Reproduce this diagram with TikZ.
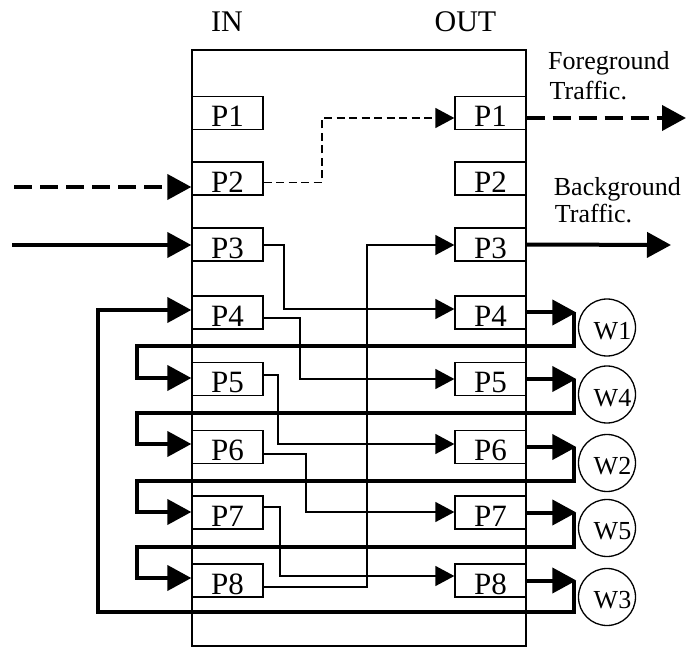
\documentclass[tikz,border=0pt]{standalone}
\usepackage{fontspec}
\setmainfont{Liberation Serif}
\usetikzlibrary{arrows.meta,calc}
\begin{document}
\begin{tikzpicture}[x=1pt,y=-1pt,
  thinline/.style={line width=1.3pt},
  thickline/.style={line width=4pt},
  bigtip/.style={-{Triangle[length=24pt,width=25pt]}},
  smalltip/.style={-{Triangle[length=19pt,width=20pt]}},
  conn/.style={thinline,smalltip},
  dconn/.style={thinline,smalltip,dash pattern=on 8pt off 4.5pt},
  feed/.style={thickline,bigtip},
  dfeed/.style={thickline,bigtip,dash pattern=on 18pt off 8pt},
  port/.style={draw,line width=1.3pt,minimum width=71pt,minimum height=33pt,inner sep=0pt,
    font=\fontsize{31}{31}\selectfont,text height=27.5pt,text depth=0pt},
  wnode/.style={draw,circle,line width=1.3pt,minimum size=57pt,inner sep=0pt,
    font=\fontsize{26}{26}\selectfont,text height=23.5pt,text depth=0pt},
  head/.style={inner sep=0pt,anchor=base,font=\fontsize{30}{30}\selectfont},
  note/.style={inner sep=0pt,anchor=base west,font=\fontsize{26}{26}\selectfont}
]
\useasboundingbox (0,0) rectangle (686,647);
% switch body
\node[draw,line width=1.3pt,minimum width=334pt,minimum height=596pt,inner sep=0pt] (sw) at (359,348) {};
\node[head] (inlbl) at (227,31.7) {IN};
\node[head] (outlbl) at (465.5,31.7) {OUT};
% ports
\foreach \i/\y in {1/113,2/178.5,3/244.5,4/312.5,5/379,6/447,7/512.5,8/580.5}{
  \node[port] (i\i) at (227.5,\y) {P\i};
  \node[port] (o\i) at (490.5,\y) {P\i};
}
% traffic labels
\node[note] (fg1) at (548,69.5) {Foreground};
\node[note] (fg2) at (549.5,99.5) {Traffic.};
\node[note] (bg1) at (553.7,196) {Background};
\node[note] (bg2) at (554.7,222.7) {Traffic.};
% wavelength converters
\node[wnode] (w1) at (607,327.5) {\kern11pt W1};
\node[wnode] (w4) at (607,394.5) {\kern11pt W4};
\node[wnode] (w2) at (607,463) {\kern11pt W2};
\node[wnode] (w5) at (607,528) {\kern11pt W5};
\node[wnode] (w3) at (607,597) {\kern11pt W3};
% external sources / sinks
\coordinate (src2) at (14,187);
\coordinate (src3) at (12,245);
\coordinate (dst1) at (686,118);
\coordinate (dst3) at (671,245);
\draw[dfeed] (src2) -- ($(i2.west)+(0,8.5)$);
\draw[feed] (src3) -- ($(i3.west)+(0,0.5)$);
\draw[dfeed] ($(o1.east)+(0,5)$) -- (dst1);
\draw[feed] (o3.east) -- (dst3);
% internal switching
\draw[dconn] ($(i2.east)+(0,4)$) -| (322,118) -- ($(o1.west)+(0,5)$);
\draw[conn] ($(i3.east)+(0,0.5)$) -| (284,309) -- ($(o4.west)+(0,-3.5)$);
\draw[conn] ($(i4.east)+(0,5.5)$) -| (300,379) -- (o5.west);
\draw[conn] ($(i5.east)+(0,-4)$) -| (278,444) -- ($(o6.west)+(0,-3)$);
\draw[conn] ($(i6.east)+(0,7)$) -| (306,512) -- ($(o7.west)+(0,-0.5)$);
\draw[conn] ($(i7.east)+(0,-5.5)$) -| (280,576) -- ($(o8.west)+(0,-4.5)$);
\draw[conn] ($(i8.east)+(0,6.5)$) -| (367,245) -- ($(o3.west)+(0,0.5)$);
% to converters
\foreach \o/\w in {4/w1,5/w4,6/w2,7/w5,8/w3}{
  \coordinate (t\o) at ($(o\o.east -| \w.west)+(-1.5,0)$);
  \draw[feed] (o\o.east) -- (t\o);
}
% feedback loops
\draw[thickline,bigtip] ($(t4)+(-2,0)$) |- (137,346) |- ($(i5.west)+(0,-1)$);
\draw[thickline,bigtip] ($(t5)+(-2,0)$) |- (137,413) |- ($(i6.west)+(0,-3)$);
\draw[thickline,bigtip] ($(t6)+(-2,0)$) |- (137,481) |- ($(i7.west)+(0,-0.5)$);
\draw[thickline,bigtip] ($(t7)+(-2,0)$) |- (137,547) |- ($(i8.west)+(0,-2.5)$);
\draw[thickline,bigtip] ($(t8)+(-2,0)$) |- (98,612) |- ($(i4.west)+(0,-2.5)$);
\end{tikzpicture}
\end{document}
